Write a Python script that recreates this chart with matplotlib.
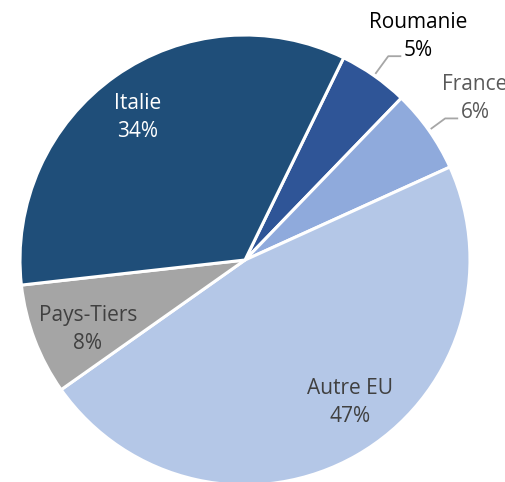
import numpy as np
import matplotlib.pyplot as plt

# parts in drawing order (clockwise)
labels = ["Roumanie", "France", "Autre EU", "Pays-Tiers", "Italie"]
shares = [5, 6, 47, 8, 34]
colors = ["#2F5597", "#8FAADC", "#B4C7E7", "#A5A5A5", "#1F4E79"]
text_colors = ["#000000", "#595959", "#404040", "#404040", "#FFFFFF"]

W, H = 505, 482
cx, cy, R = 245, H - 260, 225

fig = plt.figure(figsize=(W / 100, H / 100), dpi=100)
ax = fig.add_axes([0, 0, 1, 1])
wedges, _ = ax.pie(shares, colors=colors, startangle=64, counterclock=False,
                   radius=R, center=(cx, cy), frame=False,
                   wedgeprops=dict(edgecolor="white", linewidth=2.2))
ax.set_xlim(0, W)
ax.set_ylim(0, H)
ax.set_aspect("equal")
ax.axis("off")

font = dict(family=["Open Sans", "DejaVu Sans"], fontsize=15, ha="center",
            va="center", linespacing=1.45)

# radial fraction and angle nudge for each label
inside = {"Autre EU": (0.78, 7), "Pays-Tiers": (0.76, 2.5), "Italie": (0.80, 1.5)}
outside = {"Roumanie": (1.265, -2.5), "France": (1.255, 0.2)}

for w, lab, s, tc in zip(wedges, labels, shares, text_colors):
    mid = (w.theta1 + w.theta2) / 2
    txt = f"{lab}\n{s}%"
    if lab in inside:
        f, da = inside[lab]
        a = np.radians(mid + da)
        ax.text(cx + f * R * np.cos(a), cy + f * R * np.sin(a) - 2, txt, color=tc, **font)
    else:
        f, da = outside[lab]
        a = np.radians(mid + da)
        tx, ty = cx + f * R * np.cos(a), cy + f * R * np.sin(a) - 2
        ax.text(tx, ty, txt, color=tc, **font)
        # leader line from the wedge edge to the percent line
        e = np.radians(mid)
        x0, y0 = cx + 1.01 * R * np.cos(e), cy + 1.01 * R * np.sin(e)
        yl = ty - 20
        ax.plot([x0, tx - 30, tx - 17], [y0, yl, yl], color="#A6A6A6", lw=1.3,
                solid_capstyle="butt")

fig.savefig("out.png", dpi=100)
